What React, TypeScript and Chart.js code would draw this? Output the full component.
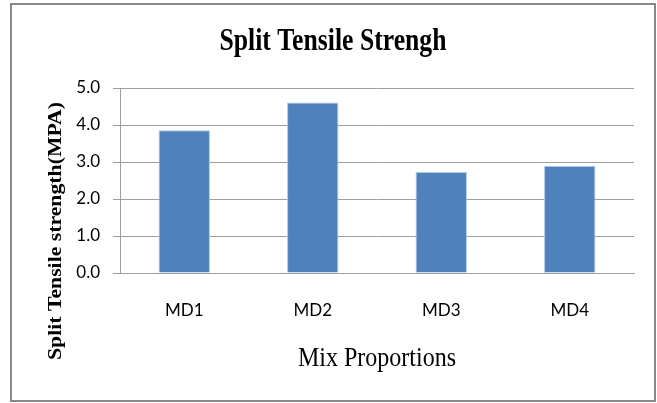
import React, { useEffect, useRef } from 'react';
import { Chart, registerables } from 'chart.js';

Chart.register(...registerables);

// Mix designs and their measured split tensile strength (MPa)
const categories = ['MD1', 'MD2', 'MD3', 'MD4'];
const strengthValues = [3.86, 4.61, 2.73, 2.89];
const yTickValues = [0, 1, 2, 3, 4, 5];

const chartTitle = 'Split Tensile Strengh';
const yAxisTitle = 'Split Tensile strength(MPA)';
const xAxisTitle = 'Mix Proportions';

const GRID_GREY = '#9E9E9E';
const BAR_BLUE = '#4F81BD';

// Draws text centred at (x, y) on its baseline, squeezed/stretched to a set width.
function fitText(ctx: CanvasRenderingContext2D, text: string, x: number, y: number, font: string, width: number) {
  ctx.save();
  ctx.font = font;
  const natural = ctx.measureText(text).width;
  ctx.translate(x, y);
  ctx.scale(width / natural, 1);
  ctx.textAlign = 'center';
  ctx.textBaseline = 'alphabetic';
  ctx.fillStyle = '#000';
  ctx.fillText(text, 0, 0);
  ctx.restore();
}

const framePlugin = {
  id: 'frameAndTitles',
  beforeDraw(chart: Chart) {
    const ctx = chart.ctx;
    ctx.save();
    ctx.fillStyle = '#fff';
    ctx.fillRect(0, 0, chart.width, chart.height);
    ctx.strokeStyle = '#898989';
    ctx.lineWidth = 2;
    ctx.strokeRect(11, 4, 644, 397);
    ctx.restore();
  },
  afterDraw(chart: Chart) {
    const ctx = chart.ctx;
    const area = chart.chartArea;
    // chart title
    fitText(ctx, chartTitle, 333, 50, 'bold 32px "Liberation Serif"', 227);
    // horizontal axis title
    fitText(ctx, xAxisTitle, (area.left + area.right) / 2, 366, '27px "Liberation Serif"', 158);
    // vertical axis title
    ctx.save();
    ctx.translate(61, 231);
    ctx.rotate(-Math.PI / 2);
    fitText(ctx, yAxisTitle, 0, 0, 'bold 18px "Liberation Serif"', 258);
    ctx.restore();
  },
};

export default function App() {
  const canvasRef = useRef<HTMLCanvasElement | null>(null);

  useEffect(() => {
    const canvas = canvasRef.current;
    if (!canvas) return;
    const chart = new Chart(canvas, {
      type: 'bar',
      data: {
        labels: categories,
        datasets: [
          {
            label: 'Split Tensile strength',
            data: strengthValues,
            backgroundColor: BAR_BLUE,
            borderColor: '#AFC6E3',
            borderWidth: 1,
            barPercentage: 0.4,
            categoryPercentage: 1,
          },
        ],
      },
      options: {
        responsive: false,
        animation: false,
        devicePixelRatio: 1,
        layout: { padding: { top: 88, right: 23, bottom: 0, left: 0 } },
        plugins: {
          legend: { display: false },
          title: { display: false },
          tooltip: { enabled: false },
        },
        scales: {
          x: {
            type: 'category',
            grid: { display: false, drawTicks: false },
            border: { display: true, color: GRID_GREY, width: 1 },
            ticks: {
              color: '#000',
              padding: 27,
              font: { family: 'Lato', size: 17 },
            },
            afterFit: (scale: any) => {
              scale.height = 130;
            },
          },
          y: {
            min: 0,
            max: 5,
            afterBuildTicks: (scale: any) => {
              scale.ticks = yTickValues.map((v) => ({ value: v }));
            },
            grid: {
              color: GRID_GREY,
              lineWidth: 1,
              drawTicks: true,
              tickLength: 7,
              tickColor: GRID_GREY,
            },
            border: { display: true, color: GRID_GREY, width: 1 },
            ticks: {
              color: '#000',
              padding: 13,
              font: { family: 'Lato', size: 17 },
              callback: (v: any) => Number(v).toFixed(1),
            },
            afterFit: (scale: any) => {
              scale.width = 120;
            },
          },
        },
      },
      plugins: [framePlugin],
    });
    return () => chart.destroy();
  }, []);

  return (
    <div style={{ position: 'fixed', left: 0, top: 0, width: 657, height: 403, background: '#fff' }}>
      <canvas ref={canvasRef} width={657} height={403} style={{ width: 657, height: 403, display: 'block' }} />
    </div>
  );
}
